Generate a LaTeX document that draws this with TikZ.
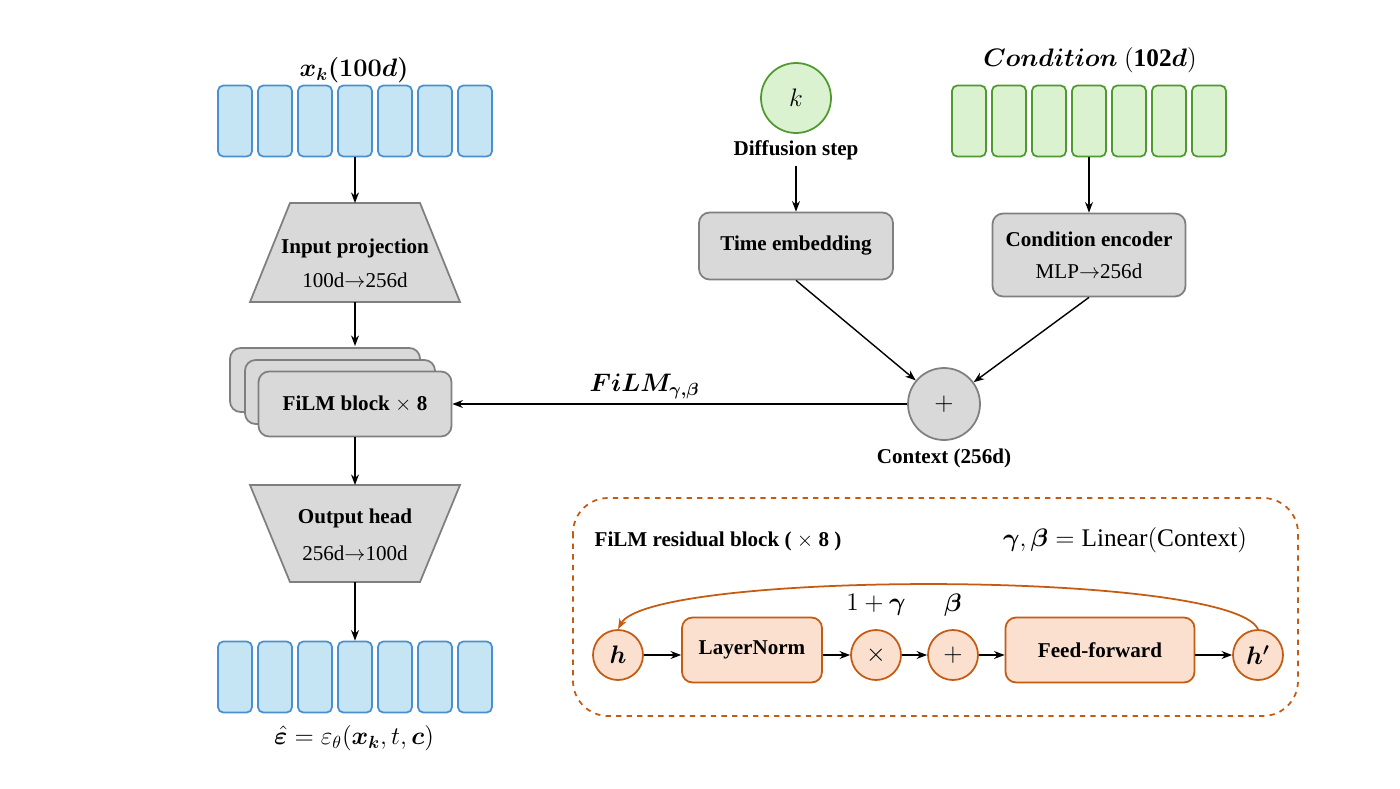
\documentclass[tikz,border=0pt]{standalone}
\usepackage{amsmath,bm}
\usepackage{fontspec}
\setmainfont{Liberation Serif}
\usetikzlibrary{shapes.geometric,arrows.meta}
\definecolor{bfill}{HTML}{C5E5F5}\definecolor{bdraw}{HTML}{4A90D0}
\definecolor{gfill}{HTML}{DAF2D0}\definecolor{gdraw}{HTML}{4E9A2E}
\definecolor{ofill}{HTML}{FBE0D0}\definecolor{odraw}{HTML}{C55A11}
\definecolor{nfill}{HTML}{D9D9D9}\definecolor{ndraw}{HTML}{7F7F7F}
\begin{document}
\begin{tikzpicture}[x=0.02cm,y=-0.02cm,font=\large,
 cell/.style={draw=#1,line width=1pt,rounded corners=3pt,minimum width=0.68cm,minimum height=1.42cm},
 gbox/.style={draw=ndraw,fill=nfill,line width=1pt,rounded corners=6pt,align=center,font=\large\bfseries},
 poly/.style={draw=ndraw,fill=nfill,line width=1pt},
 arr/.style={-{Stealth[length=6pt]},line width=0.8pt},
 oc/.style={circle,draw=odraw,fill=ofill,line width=1pt,minimum size=1cm,inner sep=0pt},
 ob/.style={draw=odraw,fill=ofill,line width=1pt,rounded corners=6pt,font=\large\bfseries,minimum height=1.3cm}]
\useasboundingbox (0,0) rectangle (1400,788);
\foreach \i in {0,...,6}{
 \node[cell=bdraw,fill=bfill] (in\i) at (235+40*\i,121) {};
 \node[cell=bdraw,fill=bfill] (out\i) at (235+40*\i,677) {};
 \node[cell=gdraw,fill=gfill] (c\i) at (969+40*\i,121) {};}
\node (xk) at (354,70) {\Large$\bm{x_k(100d)}$};
\node (eps) at (354,738) {\Large$\hat{\bm\varepsilon}=\varepsilon_\theta(\bm{x_k},t,\bm c)$};
\node (cond) at (1090,60) {\Large$\bm{Condition}\ (\mathbf{102}\bm d)$};
\draw[poly] (290,203) -- (420,203) -- (460,302) -- (250,302) -- cycle;
\coordinate (iptop) at (355,203); \coordinate (ipbot) at (355,302);
\node[font=\large\bfseries] at (355,248) {Input projection};
\node at (355,280) {100d$\to$256d};
\draw[poly] (250,485) -- (460,485) -- (420,582) -- (290,582) -- cycle;
\coordinate (ohtop) at (355,485); \coordinate (ohbot) at (355,582);
\node[font=\large\bfseries] at (355,518) {Output head};
\node at (355,553) {256d$\to$100d};
\node[gbox,minimum width=3.8cm,minimum height=1.28cm] (f1) at (325,380) {};
\node[gbox,minimum width=3.8cm,minimum height=1.28cm] (f2) at (340,392) {};
\node[gbox,minimum width=3.86cm,minimum height=1.3cm] (film) at (355,404) {FiLM block $\times$ 8};
\draw[arr] (in3.south) -- (iptop);
\draw[arr] (ipbot) -- (355,346);
\draw[arr] (film.south) -- (ohtop);
\draw[arr] (ohbot) -- (out3.north);
\node[circle,draw=gdraw,fill=gfill,line width=1pt,minimum size=1.4cm] (k) at (796,98) {\Large$k$};
\node[font=\large\bfseries] (ds) at (796,150) {Diffusion step};
\node[gbox,minimum width=3.88cm,minimum height=1.34cm] (te) at (796,246) {Time embedding};
\node[gbox,minimum width=3.86cm,minimum height=1.66cm,align=center] (ce) at (1089,255) {Condition encoder\\[4pt]\mdseries MLP$\to$256d};
\node[circle,draw=ndraw,fill=nfill,line width=1pt,minimum size=1.44cm] (ctx) at (944,404) {\Large$+$};
\node[font=\large\bfseries] at (944,458) {Context (256d)};
\draw[arr] (ds.south) -- (te.north);
\draw[arr] (c3.south) -- (ce.north);
\draw[arr] (te.south) -- (ctx);
\draw[arr] (ce.south) -- (ctx);
\draw[arr] (ctx.west) -- (film.east) node[midway,above=-1pt,xshift=-20pt] {\Large$\bm{FiLM_{\gamma,\beta}}$};
\draw[odraw,dashed,line width=1pt,rounded corners=20pt] (573,498) rectangle (1298,716);
\node[font=\large\bfseries] at (718,541) {FiLM residual block ( $\times$ 8 )};
\node at (1125,540) {\Large$\bm{\gamma},\bm{\beta}=\mathrm{Linear(Context)}$};
\node[oc] (h) at (618,655) {\Large$\bm h$};
\node[ob,minimum width=2.8cm] (ln) at (752,650) {LayerNorm};
\node[oc] (mul) at (876,655) {\Large$\times$};
\node[oc] (add) at (953,655) {\Large$+$};
\node[ob,minimum width=3.78cm] (ff) at (1100,650) {Feed-forward};
\node[oc] (hp) at (1258,655) {\Large$\bm{h'}$};
\node at (876,605) {\Large$1+\bm\gamma$};
\node at (953,605) {\Large$\bm\beta$};
\draw[arr] (h) -- (ln.west|-h);
\draw[arr] (ln.east|-mul) -- (mul);
\draw[arr] (mul) -- (add);
\draw[arr] (add) -- (ff.west|-add);
\draw[arr] (ff.east|-hp) -- (hp);
\draw[odraw,-{Stealth[length=6pt]},line width=1pt] (hp.north) .. controls (1230,570) and (650,570) .. (h.north);
\end{tikzpicture}
\end{document}
